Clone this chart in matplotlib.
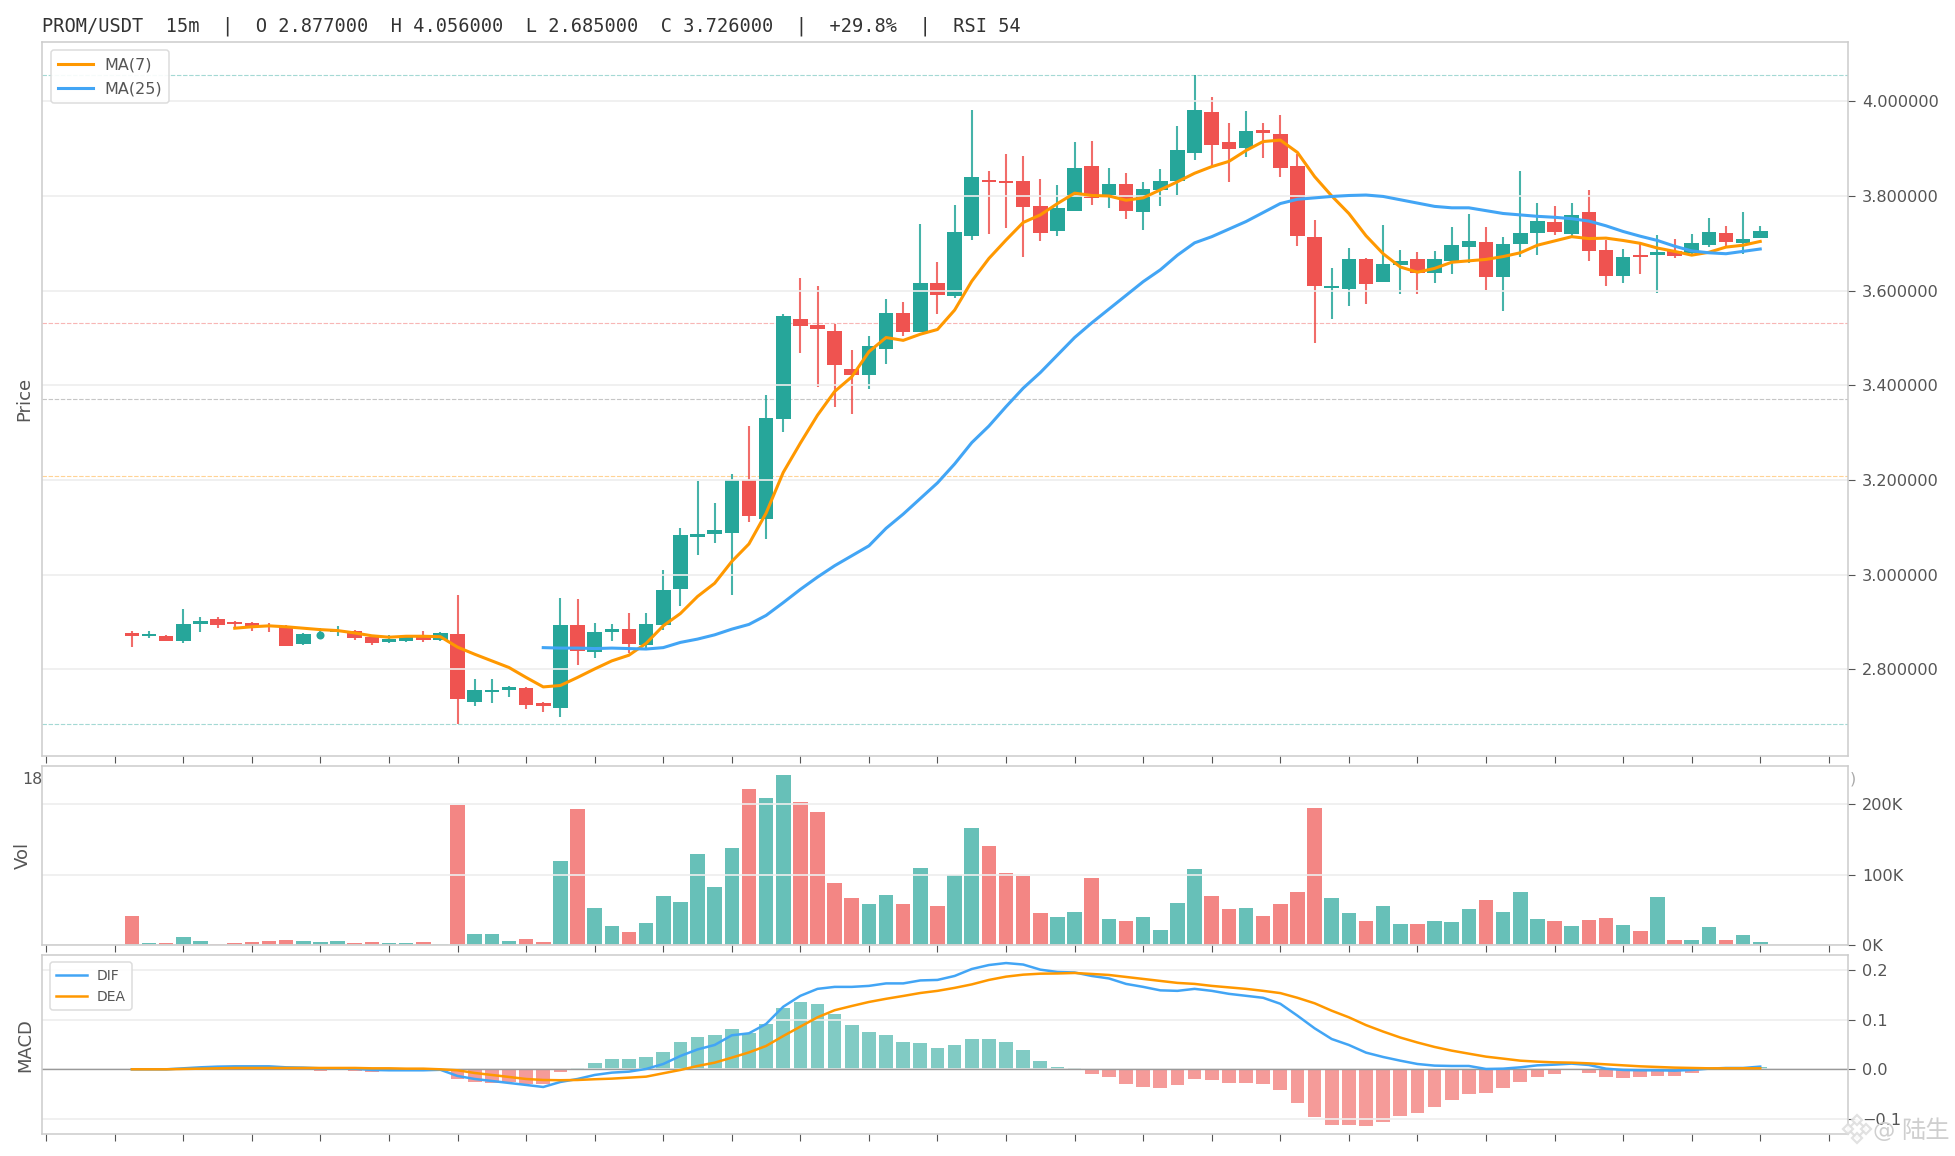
import matplotlib
matplotlib.use('Agg')
import matplotlib.pyplot as plt
from matplotlib.ticker import FuncFormatter

W, H = 1956, 1156

# candles start at index 5, the first slots of the window are empty
first = 5
opens = [2.877, 2.871, 2.8705, 2.860, 2.896, 2.906, 2.900, 2.898, 2.8945, 2.892, 2.854, 2.873, 2.879, 2.881, 2.868, 2.858,
         2.860, 2.8705, 2.862, 2.875, 2.731, 2.752, 2.756, 2.761, 2.729, 2.718, 2.894, 2.837, 2.880, 2.885, 2.852, 2.894,
         2.970, 3.080, 3.087, 3.089, 3.200, 3.118, 3.328, 3.540, 3.527, 3.515, 3.434, 3.422, 3.477, 3.553, 3.513, 3.616,
         3.589, 3.715, 3.834, 3.832, 3.832, 3.779, 3.726, 3.768, 3.863, 3.802, 3.825, 3.766, 3.813, 3.832, 3.891, 3.977,
         3.914, 3.901, 3.939, 3.931, 3.863, 3.713, 3.606, 3.604, 3.667, 3.618, 3.654, 3.667, 3.637, 3.663, 3.692, 3.703,
         3.629, 3.699, 3.722, 3.745, 3.720, 3.766, 3.686, 3.631, 3.675, 3.675, 3.684, 3.679, 3.696, 3.722, 3.701, 3.711]
closes = [2.870, 2.875, 2.860, 2.896, 2.902, 2.894, 2.896, 2.890, 2.890, 2.849, 2.875, 2.873, 2.883, 2.866, 2.856, 2.864,
          2.868, 2.862, 2.877, 2.737, 2.756, 2.756, 2.763, 2.725, 2.723, 2.894, 2.839, 2.879, 2.885, 2.854, 2.896, 2.968,
          3.084, 3.087, 3.094, 3.201, 3.123, 3.331, 3.547, 3.526, 3.520, 3.442, 3.422, 3.483, 3.553, 3.513, 3.616, 3.591,
          3.724, 3.840, 3.830, 3.827, 3.777, 3.722, 3.775, 3.859, 3.796, 3.825, 3.768, 3.815, 3.832, 3.897, 3.982, 3.908,
          3.899, 3.937, 3.933, 3.859, 3.715, 3.610, 3.610, 3.667, 3.614, 3.656, 3.663, 3.637, 3.667, 3.696, 3.705, 3.629,
          3.699, 3.722, 3.747, 3.724, 3.760, 3.684, 3.631, 3.671, 3.671, 3.682, 3.673, 3.701, 3.724, 3.703, 3.709, 3.726]
highs = [2.881, 2.881, 2.873, 2.927, 2.911, 2.911, 2.902, 2.900, 2.898, 2.894, 2.877, 2.887, 2.892, 2.883, 2.870, 2.873,
         2.873, 2.881, 2.879, 2.957, 2.780, 2.780, 2.765, 2.763, 2.731, 2.951, 2.949, 2.898, 2.896, 2.919, 2.919, 3.010,
         3.099, 3.198, 3.151, 3.213, 3.314, 3.380, 3.551, 3.627, 3.610, 3.530, 3.475, 3.504, 3.582, 3.576, 3.741, 3.661,
         3.781, 3.982, 3.853, 3.889, 3.884, 3.836, 3.823, 3.914, 3.916, 3.859, 3.849, 3.830, 3.857, 3.948, 4.056, 4.009,
         3.954, 3.979, 3.954, 3.971, 3.889, 3.749, 3.648, 3.690, 3.669, 3.739, 3.686, 3.682, 3.684, 3.734, 3.762, 3.734,
         3.713, 3.853, 3.785, 3.779, 3.785, 3.813, 3.707, 3.688, 3.699, 3.718, 3.709, 3.720, 3.753, 3.737, 3.766, 3.737]
lows = [2.847, 2.866, 2.860, 2.856, 2.879, 2.887, 2.887, 2.881, 2.879, 2.849, 2.851, 2.866, 2.871, 2.862, 2.851, 2.856,
        2.858, 2.858, 2.860, 2.685, 2.723, 2.729, 2.742, 2.716, 2.710, 2.699, 2.809, 2.824, 2.860, 2.834, 2.844, 2.883,
        2.934, 3.042, 3.066, 2.957, 3.112, 3.076, 3.302, 3.469, 3.397, 3.355, 3.340, 3.393, 3.446, 3.504, 3.513, 3.551,
        3.585, 3.707, 3.720, 3.732, 3.671, 3.705, 3.715, 3.768, 3.781, 3.775, 3.751, 3.728, 3.779, 3.802, 3.876, 3.863,
        3.830, 3.882, 3.880, 3.840, 3.694, 3.489, 3.540, 3.568, 3.572, 3.618, 3.593, 3.593, 3.616, 3.635, 3.658, 3.601,
        3.557, 3.671, 3.675, 3.717, 3.715, 3.663, 3.610, 3.616, 3.635, 3.595, 3.669, 3.675, 3.692, 3.692, 3.677, 3.711]

volumes = [41.6, 3.3, 3.3, 11.8, 6.1, 1.9, 3.3, 4.7, 6.1, 7.6, 6.1, 4.7, 6.1, 3.3, 4.7, 3.3,
           3.3, 4.7, 1.9, 199.5, 16.1, 16.1, 6.1, 9.0, 4.7, 119.6, 193.4, 53.0, 27.4, 18.9, 31.7, 70.0,
           61.5, 129.6, 82.7, 138.0, 221.7, 209.0, 241.6, 203.3, 189.0, 88.4, 67.1, 58.6, 71.4, 58.6, 109.7, 55.8,
           99.8, 166.4, 140.9, 102.6, 98.3, 45.9, 40.2, 47.3, 95.5, 37.4, 34.5, 40.2, 21.7, 60.0, 108.3, 70.0,
           51.5, 53.0, 41.6, 58.6, 75.7, 194.8, 67.1, 45.9, 34.5, 55.8, 30.3, 30.3, 34.5, 33.1, 51.5, 64.3,
           47.3, 75.7, 37.4, 34.5, 27.4, 35.9, 38.8, 28.8, 20.3, 68.6, 7.6, 7.6, 26.0, 7.6, 14.7, 4.7]

ma7_first = 11
ma7 = [2.887, 2.890, 2.892, 2.890, 2.887, 2.884, 2.882, 2.877, 2.871, 2.868, 2.870, 2.870, 2.869, 2.847, 2.832, 2.818,
       2.804, 2.783, 2.763, 2.766, 2.783, 2.801, 2.818, 2.830, 2.855, 2.892, 2.918, 2.954, 2.982, 3.028, 3.065, 3.130,
       3.216, 3.278, 3.337, 3.387, 3.418, 3.471, 3.501, 3.495, 3.508, 3.518, 3.559, 3.620, 3.668, 3.707, 3.744, 3.760,
       3.784, 3.806, 3.801, 3.800, 3.791, 3.796, 3.813, 3.830, 3.848, 3.862, 3.873, 3.896, 3.915, 3.918, 3.892, 3.841,
       3.800, 3.763, 3.716, 3.678, 3.650, 3.639, 3.647, 3.660, 3.663, 3.666, 3.672, 3.680, 3.696, 3.705, 3.714, 3.710,
       3.711, 3.706, 3.700, 3.690, 3.683, 3.675, 3.681, 3.692, 3.696, 3.704]

ma25_first = 29
ma25 = [2.846, 2.845, 2.845, 2.844, 2.845, 2.844, 2.843, 2.846, 2.857, 2.864, 2.873, 2.885, 2.895, 2.914, 2.941, 2.969,
        2.995, 3.019, 3.040, 3.061, 3.098, 3.128, 3.161, 3.194, 3.234, 3.279, 3.314, 3.355, 3.394, 3.427, 3.464, 3.501,
        3.532, 3.561, 3.590, 3.619, 3.644, 3.675, 3.701, 3.714, 3.730, 3.746, 3.765, 3.784, 3.793, 3.796, 3.799, 3.801,
        3.802, 3.799, 3.792, 3.785, 3.778, 3.775, 3.775, 3.769, 3.763, 3.760, 3.757, 3.755, 3.752, 3.747, 3.737, 3.725,
        3.715, 3.706, 3.694, 3.684, 3.680, 3.678, 3.683, 3.688]

macd_hist = [0.0, 0.0, 0.0, 0.001, 0.002, 0.002, 0.002, 0.002, 0.002, 0.001, 0.001, -0.003, 0.0005, -0.003, -0.005, -0.004,
             -0.002, -0.001, 0.001, -0.0195, -0.0255, -0.0275, -0.0255, -0.0295, -0.0295, -0.0054, 0.0027, 0.0128, 0.0208, 0.0208, 0.0248, 0.035,
             0.055, 0.065, 0.069, 0.081, 0.073, 0.091, 0.1235, 0.1356, 0.1315, 0.1114, 0.0893, 0.0752, 0.0691, 0.055, 0.053, 0.043,
             0.049, 0.061, 0.061, 0.055, 0.039, 0.0168, 0.0047, 0.0027, -0.0094, -0.0154, -0.0295, -0.0356, -0.0376, -0.0315, -0.0195, -0.0215,
             -0.0275, -0.0275, -0.0295, -0.0416, -0.0678, -0.096, -0.112, -0.112, -0.114, -0.106, -0.094, -0.088, -0.076, -0.062, -0.05, -0.048,
             -0.038, -0.0255, -0.0154, -0.0094, 0.0005, -0.0074, -0.0154, -0.0174, -0.0154, -0.0134, -0.0134, -0.0074, -0.0005, 0.0005, 0.001, 0.004]
dif = [0.0, 0.0, 0.0, 0.002, 0.004, 0.0054, 0.006, 0.006, 0.006, 0.004, 0.0034, 0.002, 0.002, 0.0013, -0.0013, -0.002,
       -0.002, -0.002, -0.001, -0.0134, -0.0195, -0.0235, -0.0275, -0.0315, -0.0356, -0.0255, -0.0195, -0.0114, -0.0067, -0.0047, 0.0007, 0.0107,
       0.0268, 0.040, 0.049, 0.0685, 0.0725, 0.0913, 0.126, 0.148, 0.162, 0.166, 0.166, 0.168, 0.173, 0.173, 0.179, 0.180,
       0.188, 0.202, 0.210, 0.214, 0.211, 0.2007, 0.196, 0.195, 0.188, 0.183, 0.172, 0.166, 0.159, 0.158, 0.162, 0.158,
       0.152, 0.148, 0.144, 0.132, 0.108, 0.0826, 0.061, 0.049, 0.0336, 0.0248, 0.0174, 0.0107, 0.0074, 0.0067, 0.0067, 0.0007,
       0.0013, 0.004, 0.008, 0.0094, 0.0114, 0.0087, 0.0013, -0.0013, -0.002, -0.002, -0.0027, -0.0013, 0.0013, 0.0027, 0.0027, 0.0054]
dea = [0.0, 0.0, 0.0, 0.0007, 0.0013, 0.002, 0.0027, 0.0027, 0.0027, 0.0027, 0.0027, 0.0027, 0.0027, 0.0027, 0.002, 0.002,
       0.0013, 0.0013, 0.0, -0.002, -0.0074, -0.0114, -0.0154, -0.0195, -0.0215, -0.022, -0.0215, -0.020, -0.0188, -0.0168, -0.0148, -0.008,
       -0.0013, 0.0067, 0.0134, 0.0235, 0.034, 0.047, 0.067, 0.086, 0.1047, 0.119, 0.1275, 0.1356, 0.142, 0.1477, 0.1537, 0.158,
       0.164, 0.171, 0.180, 0.1866, 0.1906, 0.1926, 0.193, 0.194, 0.192, 0.19, 0.186, 0.182, 0.178, 0.174, 0.172, 0.168,
       0.165, 0.162, 0.158, 0.1535, 0.144, 0.133, 0.118, 0.1047, 0.089, 0.076, 0.064, 0.054, 0.045, 0.0376, 0.0315, 0.0255,
       0.0215, 0.0174, 0.0154, 0.014, 0.0134, 0.012, 0.01, 0.008, 0.006, 0.0047, 0.0034, 0.0027, 0.002, 0.002, 0.002, 0.002]

# horizontal reference levels
levels = [4.056, 3.5323, 3.3705, 3.2087, 2.685]
level_colors = ['#26A69A', '#EF5350', '#777777', '#FF9800', '#26A69A']

title = 'PROM/USDT  15m  |  O 2.877000  H 4.056000  L 2.685000  C 3.726000  |  +29.8%  |  RSI 54'
price_ticks = [2.8, 3.0, 3.2, 3.4, 3.6, 3.8, 4.0]
vol_ticks = [0, 100, 200]
macd_ticks = [-0.1, 0.0, 0.1, 0.2]

GREEN = '#26A69A'
RED = '#EF5350'
ORANGE = '#FF9800'
BLUE = '#42A5F5'
TEXT = '#555555'
SPINE = '#CCCCCC'
GRID = '#EEEEEE'


def rect(left, top, right, bottom):
    # pixel box -> figure fraction
    return [left / W, 1 - bottom / H, (right - left) / W, (bottom - top) / H]


def style(ax, ylabel, label_x):
    for s in ax.spines.values():
        s.set_color(SPINE)
        s.set_linewidth(1.1)
    ax.yaxis.tick_right()
    ax.grid(axis='y', color=GRID, lw=1.2)
    ax.grid(axis='x', visible=False)
    ax.tick_params(axis='both', color=TEXT, labelcolor=TEXT, labelsize=11.6, length=5, width=0.8, pad=5)
    ax.set_xlim(-0.22, 105.12)
    ax.set_xticks(range(0, 105, 4))
    ax.set_xticklabels([])
    ax.set_ylabel(ylabel, color=TEXT, fontsize=13)
    ax.yaxis.set_label_position('left')
    ax.yaxis.set_label_coords((label_x - 42.4) / 1805.6, 0.5)


fig = plt.figure(figsize=(W / 100, H / 100), dpi=100, facecolor='white')
ax1 = fig.add_axes(rect(42.4, 42.3, 1848, 755.7))
ax2 = fig.add_axes(rect(42.4, 766.3, 1848, 945.3))
ax3 = fig.add_axes(rect(42.4, 955.3, 1848, 1134.3))

xs = list(range(first, first + len(opens)))
colors = [GREEN if c >= o else RED for o, c in zip(opens, closes)]

# price panel
for lv, col in zip(levels, level_colors):
    ax1.axhline(lv, color=col, lw=0.8, alpha=0.42, zorder=0.5, dashes=(4, 1.5))
ax1.vlines(xs, lows, highs, colors=colors, lw=1.5, alpha=0.85, zorder=1)
body_x = [x for x, o, c in zip(xs, opens, closes) if o != c]
body_bottom = [min(o, c) for o, c in zip(opens, closes) if o != c]
body_height = [abs(c - o) for o, c in zip(opens, closes) if o != c]
body_color = [k for k, o, c in zip(colors, opens, closes) if o != c]
ax1.bar(body_x, body_height, bottom=body_bottom, width=0.85, color=body_color, lw=0, zorder=1)
# doji with no body, drawn as a dot in the original
doji_x = [x for x, o, c in zip(xs, opens, closes) if o == c]
doji_y = [o for o, c in zip(opens, closes) if o == c]
ax1.plot(doji_x, doji_y, 'o', color=GREEN, ms=5.8, mew=0, zorder=1)
ax1.plot(range(ma7_first, ma7_first + len(ma7)), ma7, color=ORANGE, lw=2.2, label='MA(7)')
ax1.plot(range(ma25_first, ma25_first + len(ma25)), ma25, color=BLUE, lw=2.2, label='MA(25)')
style(ax1, 'Price', 33)
ax1.set_ylim(2.6177, 4.1246)
ax1.set_yticks(price_ticks)
ax1.yaxis.set_major_formatter(FuncFormatter(lambda v, p: f'{v:.6f}'))
leg = ax1.legend(loc='upper left', bbox_to_anchor=(0.0047, 0.989), borderaxespad=0, fontsize=11.5, labelcolor=TEXT,
                 framealpha=0.9, edgecolor='#D9D9D9', handlelength=2.2, handletextpad=0.7, borderpad=0.45, labelspacing=0.55)
leg.get_frame().set_linewidth(1.1)

# volume panel
ax2.bar(xs, volumes, width=0.85, color=colors, alpha=0.7, lw=0, zorder=1)
style(ax2, 'Vol', 32)
ax2.set_ylim(0, 253.9)
ax2.set_yticks(vol_ticks)
ax2.yaxis.set_major_formatter(FuncFormatter(lambda v, p: f'{v:.0f}K'))

# macd panel
hist_colors = [GREEN if v >= 0 else RED for v in macd_hist]
ax3.bar(xs, macd_hist, width=0.8, color=hist_colors, alpha=0.58, lw=0, zorder=1)
ax3.axhline(0, color='#999999', lw=1.0, zorder=1.6)
ax3.plot(xs, dif, color=BLUE, lw=1.8, label='DIF')
ax3.plot(xs, dea, color=ORANGE, lw=1.8, label='DEA')
style(ax3, 'MACD', 34)
ax3.set_ylim(-0.1309, 0.2296)
ax3.set_yticks(macd_ticks)
leg3 = ax3.legend(loc='upper left', bbox_to_anchor=(0.0042, 0.96), borderaxespad=0, fontsize=10, labelcolor=TEXT,
                  framealpha=0.9, edgecolor='#D9D9D9', handlelength=2.2, handletextpad=0.7, borderpad=0.45, labelspacing=0.5)
leg3.get_frame().set_linewidth(1.1)

# everything placed by pixel: title, clipped tick label bits, watermark
over = fig.add_axes([0, 0, 1, 1], facecolor='none')
over.axis('off')
over.set_xlim(0, W)
over.set_ylim(H, 0)
over.text(42.4, 31, title, family='DejaVu Sans Mono', fontsize=13.46, color='#333333', va='baseline', ha='left')
over.text(42.4, 779, '18', fontsize=11.4, color=TEXT, va='center', ha='right')
over.text(1850, 779, ')', fontsize=11.4, color=TEXT, va='center', ha='left', alpha=0.5)
for mx, my, ms in [(1857, 1129, 9), (1848, 1129, 5), (1866, 1129, 5), (1857, 1120, 5), (1857, 1138, 5)]:
    over.plot([mx], [my], 'D', ms=ms, mfc='white', mec='#DDDDDD', mew=1.6, alpha=0.85)
over.text(1884, 1131, '@', fontsize=16, color='#CFCFCF', va='center', ha='center')
over.text(1925, 1131, '陆生', family=['Noto Sans CJK SC', 'DejaVu Sans'], fontsize=17.5, color='#CFCFCF', va='center', ha='center')

fig.savefig('out.png', dpi=100, facecolor='white')
